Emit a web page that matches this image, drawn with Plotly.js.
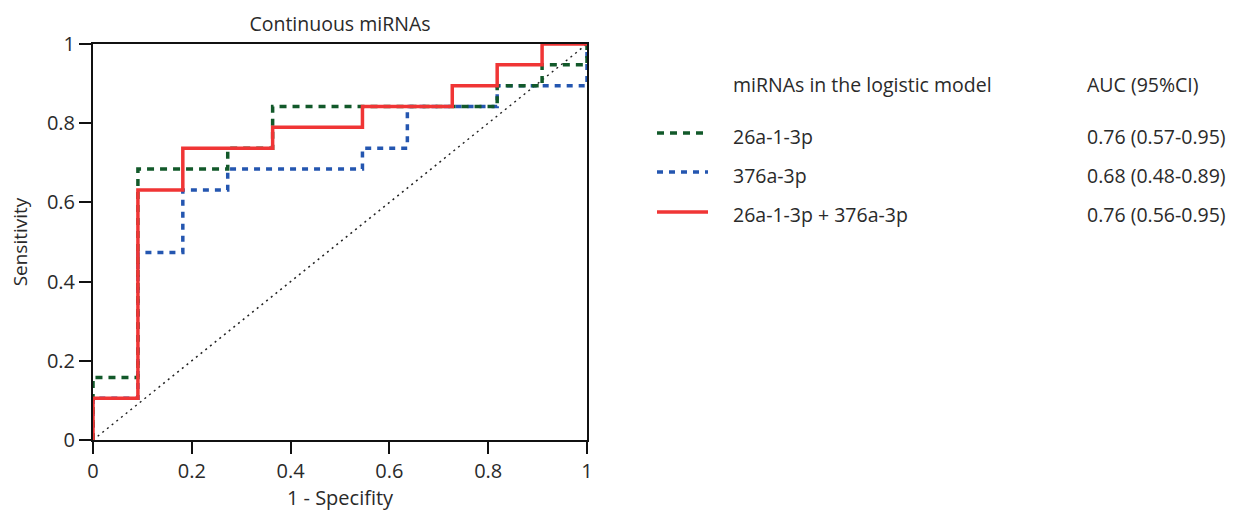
<!DOCTYPE html>
<html>
<head>
<meta charset="utf-8">
<script src="https://cdn.plot.ly/plotly-3.0.1.min.js"></script>
<style>html,body{margin:0;padding:0;background:#fff;}#chart{width:1239px;height:514px;}</style>
</head>
<body>
<div id="chart"></div>
<script>
// ROC step coordinates (1 - specificity, sensitivity); 11 negatives, 19 positives
const fpr26a = [0, 0, 1/11, 1/11, 3/11, 3/11, 4/11, 4/11, 9/11, 9/11, 10/11, 10/11, 1, 1];
const tpr26a = [0, 3/19, 3/19, 13/19, 13/19, 14/19, 14/19, 16/19, 16/19, 17/19, 17/19, 18/19, 18/19, 1];

const fpr376a = [0, 0, 1/11, 1/11, 2/11, 2/11, 3/11, 3/11, 6/11, 6/11, 7/11, 7/11, 9/11, 9/11, 1, 1];
const tpr376a = [0, 2/19, 2/19, 9/19, 9/19, 12/19, 12/19, 13/19, 13/19, 14/19, 14/19, 16/19, 16/19, 17/19, 17/19, 1];

const fprBoth = [0, 0, 1/11, 1/11, 2/11, 2/11, 4/11, 4/11, 6/11, 6/11, 8/11, 8/11, 9/11, 9/11, 10/11, 10/11, 1];
const tprBoth = [0, 2/19, 2/19, 12/19, 12/19, 14/19, 14/19, 15/19, 15/19, 16/19, 16/19, 17/19, 17/19, 18/19, 18/19, 1, 1];

const refLine = [0, 1];

const seriesNames = ["26a-1-3p", "376a-3p", "26a-1-3p + 376a-3p"];
const aucLabels = ["0.76 (0.57-0.95)", "0.68 (0.48-0.89)", "0.76 (0.56-0.95)"];
const tickVals = [0, 0.2, 0.4, 0.6, 0.8, 1];
const tickText = ["0", "0.2", "0.4", "0.6", "0.8", "1"];

const styles = [
  {color: "#12592a", dash: "7px,6px", width: 3.5},
  {color: "#2456b0", dash: "6px,6px", width: 3.5},
  {color: "#f03535", dash: "solid", width: 3.5}
];
const FONT = "Open Sans, Noto Sans, sans-serif";
const TXT = "#2a2a2a";

const traces = [
  {x: refLine, y: refLine, mode: "lines", line: {color: "#222", width: 1.5, dash: "2px,4px"}, hoverinfo: "skip"},
  {x: fpr376a, y: tpr376a, mode: "lines", name: seriesNames[1], line: styles[1]},
  {x: fpr26a, y: tpr26a, mode: "lines", name: seriesNames[0], line: styles[0]},
  {x: fprBoth, y: tprBoth, mode: "lines", name: seriesNames[2], line: styles[2]}
];

// plot area in pixels: x 93..587, y 44..440
const L = 93, R = 587, T = 44, B = 440;
const px = v => (v - L) / (R - L);
const py = v => (B - v) / (B - T);

const shapes = [];
const annotations = [
  {xref: "paper", yref: "paper", x: px(731), y: py(84), xanchor: "left", yanchor: "middle", showarrow: false,
   text: "miRNAs in the logistic model", font: {family: FONT, size: 19.5, color: TXT}},
  {xref: "paper", yref: "paper", x: px(1085), y: py(84), xanchor: "left", yanchor: "middle", showarrow: false,
   text: "AUC (95%CI)", font: {family: FONT, size: 19.5, color: TXT}}
];
const rowY = [136, 175, 215];
const rowLineY = [133, 172, 212];
for (let i = 0; i < 3; i++) {
  shapes.push({type: "line", xref: "paper", yref: "paper", x0: px(657), x1: px(708), y0: py(rowLineY[i]), y1: py(rowLineY[i]),
    line: {color: styles[i].color, width: styles[i].width, dash: styles[i].dash}});
  annotations.push({xref: "paper", yref: "paper", x: px(731), y: py(rowY[i]), xanchor: "left", yanchor: "middle",
    showarrow: false, text: seriesNames[i], font: {family: FONT, size: 19.5, color: TXT}});
  annotations.push({xref: "paper", yref: "paper", x: px(1085), y: py(rowY[i]), xanchor: "left", yanchor: "middle",
    showarrow: false, text: aucLabels[i], font: {family: FONT, size: 19.5, color: TXT}});
}

const axisCommon = {
  range: [0, 1], tickvals: tickVals, ticktext: tickText, ticks: "outside", ticklen: 12, tickwidth: 2,
  tickcolor: "#111", showline: true, linecolor: "#111", linewidth: 2, mirror: true, showgrid: false,
  zeroline: false, tickfont: {family: FONT, size: 20, color: TXT}, fixedrange: true
};

const layout = {
  width: 1239, height: 514,
  margin: {l: L, r: 1239 - R, t: T, b: 514 - B},
  paper_bgcolor: "#fff", plot_bgcolor: "#fff",
  showlegend: false,
  title: {text: "Continuous miRNAs", x: 0.5 * (L + R) / 1239, xanchor: "center", y: 1 - 24 / 514, yanchor: "middle",
    font: {family: FONT, size: 19.5, color: TXT}},
  xaxis: Object.assign({}, axisCommon, {title: {text: "1 - Specifity", standoff: 6, font: {family: FONT, size: 20, color: TXT}}}),
  yaxis: Object.assign({}, axisCommon, {title: {text: "Sensitivity", standoff: 14, font: {family: FONT, size: 19, color: TXT}}}),
  shapes: shapes,
  annotations: annotations
};

Plotly.newPlot("chart", traces, layout, {displayModeBar: false, staticPlot: true});
</script>
</body>
</html>
